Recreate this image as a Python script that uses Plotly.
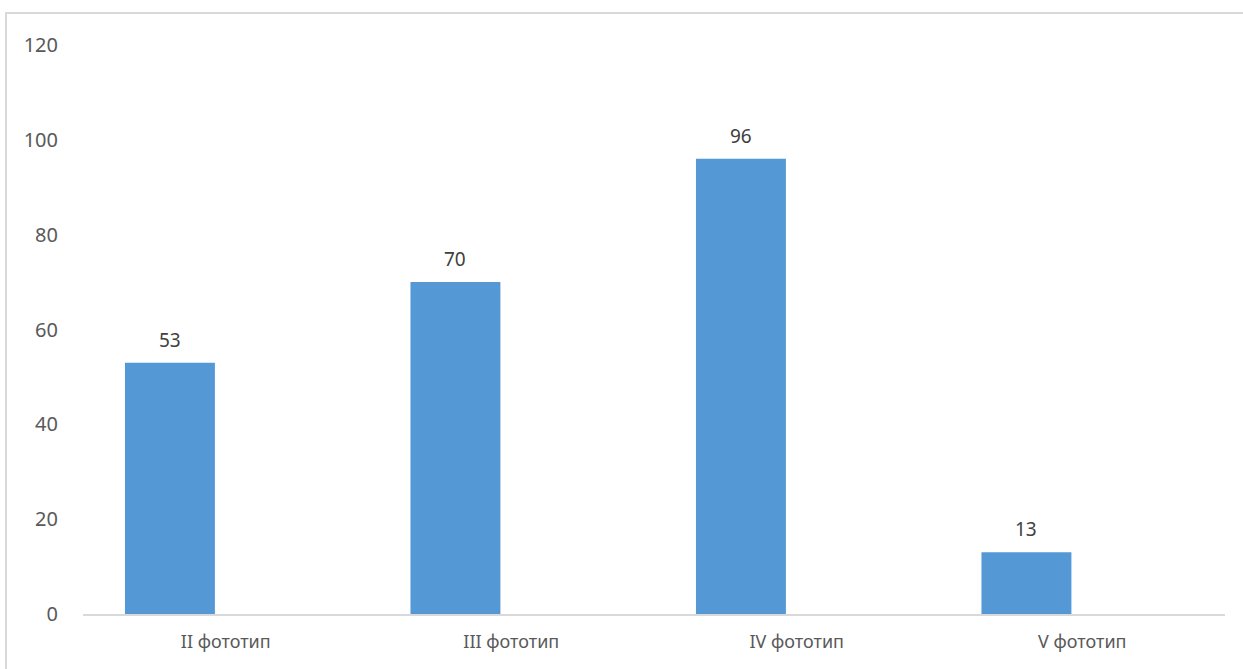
import plotly.graph_objects as go

categories = ["II фототип", "III фототип", "IV фототип", "V фототип"]
values = [53, 70, 96, 13]
y_ticks = [0, 20, 40, 60, 80, 100, 120]

fig = go.Figure()
fig.add_trace(go.Bar(
    x=categories, y=values,
    marker=dict(color="#5498D6", line=dict(width=0)),
    width=0.315, offset=-0.353,
))

for c, v in zip(categories, values):
    fig.add_annotation(x=c, y=v, text=str(v), showarrow=False,
                       xshift=-0.1955 * 285.5, yshift=23, yanchor="middle",
                       font=dict(family="Noto Sans", size=19, color="#404040"))

fig.update_layout(
    width=1243, height=669,
    margin=dict(l=83, r=18, t=45, b=55),
    paper_bgcolor="white", plot_bgcolor="white",
    showlegend=False,
    font=dict(family="Noto Sans", size=18, color="#595959"),
    xaxis=dict(range=[-0.5, 3.5], showline=True, linecolor="#D9D9D9", linewidth=1.5,
               ticks="", showgrid=False, tickfont=dict(size=18, color="#595959"),
               ticklabelstandoff=11),
    yaxis=dict(range=[0, 120], tickvals=y_ticks, showgrid=False, zeroline=False,
               showline=False, ticks="", ticklabelstandoff=24,
               tickfont=dict(size=20, color="#595959")),
    shapes=[dict(type="rect", xref="paper", yref="paper",
                 x0=-77/1142, x1=1.2, y0=-0.3, y1=(614-13)/569,
                 line=dict(color="#D9D9D9", width=2), fillcolor="rgba(0,0,0,0)",
                 layer="below")],
)

fig.write_html("out.html")
